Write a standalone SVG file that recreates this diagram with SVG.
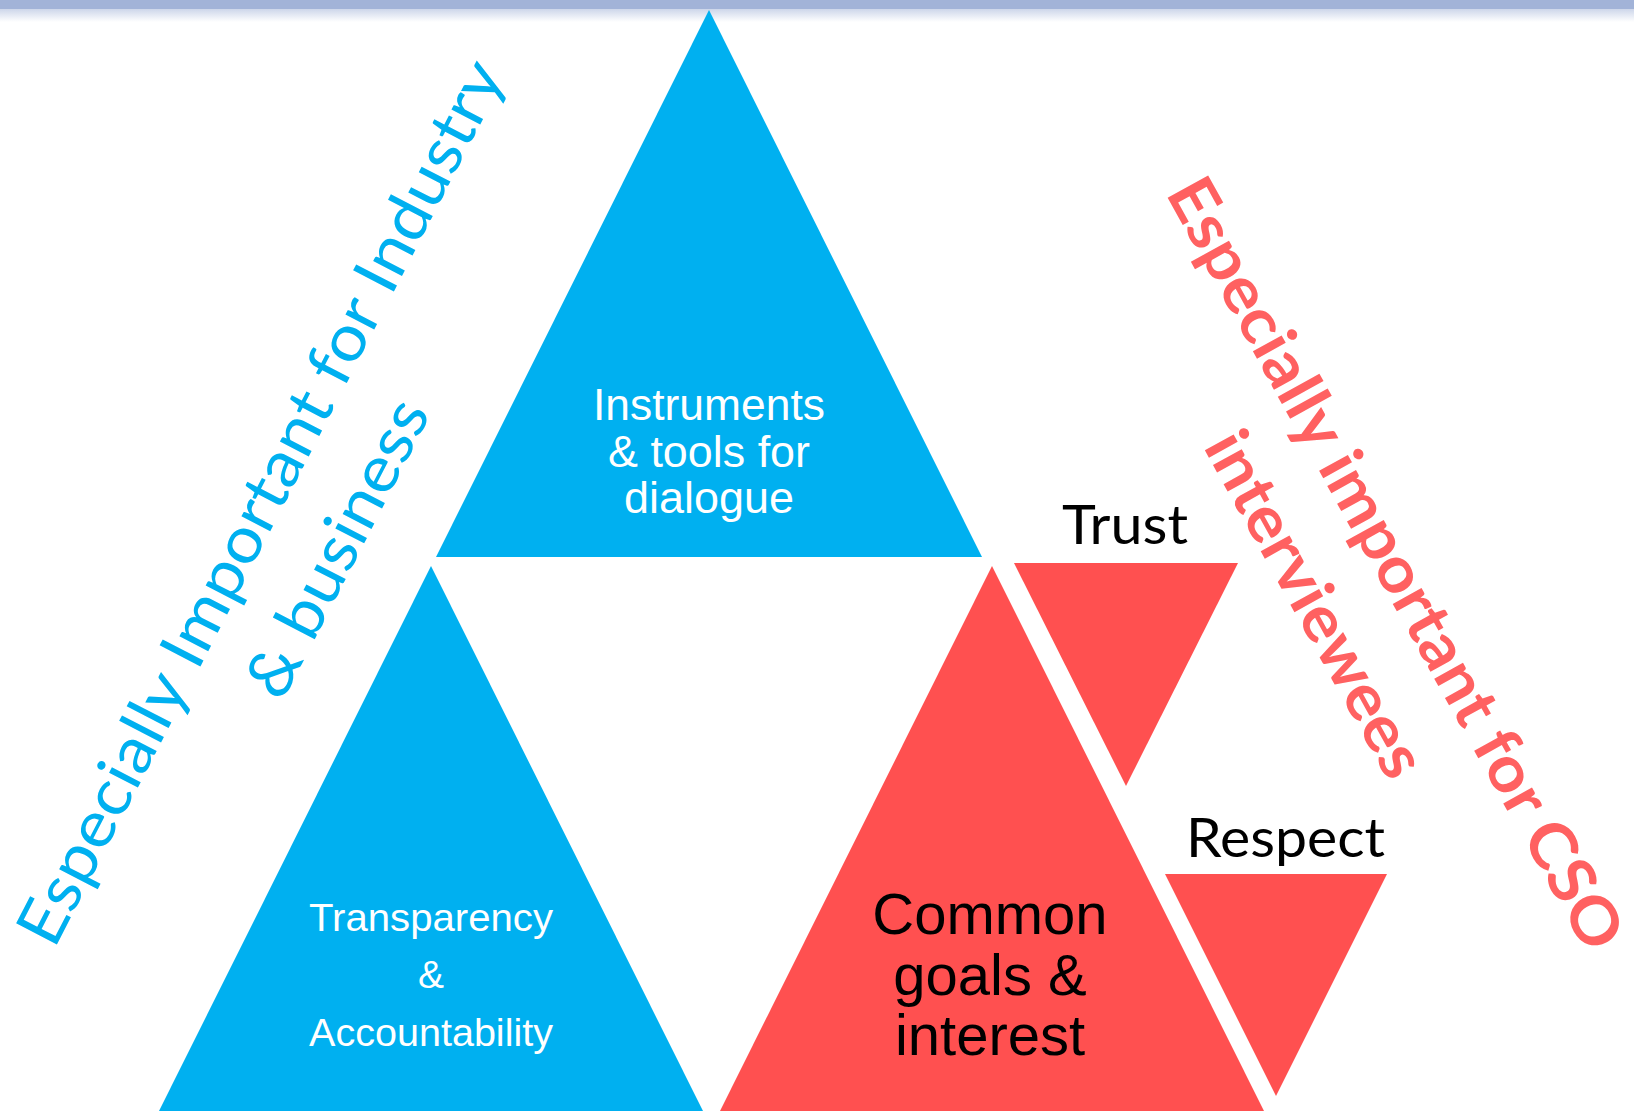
<svg xmlns="http://www.w3.org/2000/svg" width="1634" height="1117" viewBox="0 0 1634 1117">
  <defs>
    <linearGradient id="barFade" x1="0" y1="0" x2="0" y2="1">
      <stop offset="0" stop-color="#cdd6ea"/>
      <stop offset="1" stop-color="#ffffff"/>
    </linearGradient>
    <style>
      .blue { fill: #00b0f0; }
      .red { fill: #ff5050; }
      .inner { font-family: "Liberation Sans", Arial, sans-serif; fill: #ffffff; }
      .dark { font-family: "Liberation Sans", Arial, sans-serif; fill: #000000; text-anchor: middle; }
      .cal { font-family: Lato, "Open Sans", sans-serif; }
      .side-blue { fill: #00b0f0; }
      .side-red { fill: #ff6161; font-weight: bold; }
    </style>
  </defs>

  <rect x="0" y="0" width="1634" height="1117" fill="#ffffff"/>
  <g id="top-bar">
    <rect x="0" y="0" width="1634" height="9" fill="#a2b3d8"/>
    <rect x="0" y="9" width="1634" height="13" fill="url(#barFade)"/>
  </g>

  <g id="node-instruments">
    <polygon class="blue" points="709,10 436,557 982,557"/>
    <text class="inner" font-size="44" x="593" y="420" textLength="232" lengthAdjust="spacingAndGlyphs">Instruments</text>
    <text class="inner" font-size="44" x="608" y="467" textLength="202" lengthAdjust="spacingAndGlyphs">&amp; tools for</text>
    <text class="inner" font-size="44" x="624" y="513" textLength="170" lengthAdjust="spacingAndGlyphs">dialogue</text>
  </g>

  <g id="node-transparency">
    <polygon class="blue" points="431,566 159,1111 703,1111"/>
    <text class="inner" font-size="39" x="309" y="931" textLength="244" lengthAdjust="spacingAndGlyphs">Transparency</text>
    <text class="inner" font-size="39" x="431" y="988" text-anchor="middle">&amp;</text>
    <text class="inner" font-size="39" x="309" y="1046" textLength="244" lengthAdjust="spacingAndGlyphs">Accountability</text>
  </g>

  <g id="node-common">
    <polygon class="red" points="992,566 720,1111 1264,1111"/>
    <text class="dark" font-size="58" x="990" y="934">Common</text>
    <text class="dark" font-size="58" x="990" y="995">goals &amp;</text>
    <text class="dark" font-size="58" x="990" y="1055">interest</text>
  </g>

  <g id="node-trust">
    <polygon class="red" points="1014,563 1238,563 1126,786"/>
    <text class="cal" x="1062" y="544" font-size="54" fill="#000000" textLength="126" lengthAdjust="spacingAndGlyphs">Trust</text>
  </g>

  <g id="node-respect">
    <polygon class="red" points="1165,874 1387,874 1276,1096"/>
    <text class="cal" x="1186" y="857" font-size="54" fill="#000000" textLength="199" lengthAdjust="spacingAndGlyphs">Respect</text>
  </g>

  <g id="label-industry" transform="translate(54,950) rotate(-62.7)">
    <text class="cal side-blue" font-size="64" x="0" y="0" textLength="985" lengthAdjust="spacingAndGlyphs">Especially Important for Industry</text>
    <text class="cal side-blue" font-size="64" x="324" y="89" textLength="326" lengthAdjust="spacingAndGlyphs">&amp; business</text>
  </g>

  <g id="label-cso" transform="translate(1165,193) rotate(61)">
    <text class="cal side-red" font-size="64" x="0" y="0" textLength="872" lengthAdjust="spacingAndGlyphs">Especially important for CSO</text>
    <text class="cal side-red" font-size="64" x="240" y="90" textLength="385" lengthAdjust="spacingAndGlyphs">interviewees</text>
  </g>
</svg>
